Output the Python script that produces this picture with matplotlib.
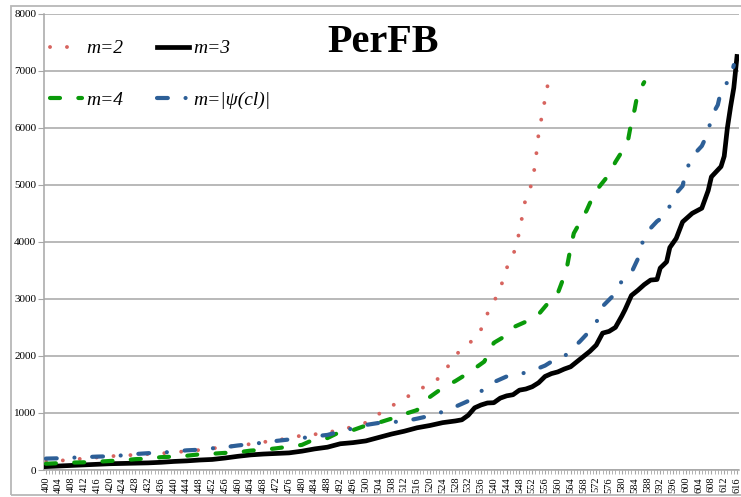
import matplotlib
matplotlib.use('Agg')
import matplotlib.pyplot as plt
from matplotlib.patches import Rectangle
import numpy as np

plt.rcParams['font.family'] = ['Liberation Serif', 'DejaVu Serif']

# m=2 (dotted red)
x_m2 = [400, 404, 408, 412, 416, 420, 424, 428, 432, 436, 440, 444, 448, 452, 456, 460,
        464, 468, 472, 476, 480, 484, 488, 492, 496, 500, 504, 508, 512, 516, 520, 524,
        527, 531, 535, 537, 539, 542, 543, 545, 547, 548, 549, 550, 552, 553, 554, 555, 556, 557]
y_m2 = [150, 160, 185, 200, 220, 240, 255, 265, 280, 290, 310, 330, 350, 380, 400, 430,
        455, 490, 520, 560, 605, 625, 660, 700, 760, 830, 980, 1120, 1250, 1390, 1510, 1650,
        1950, 2180, 2330, 2600, 2880, 3130, 3400, 3670, 3900, 4200, 4480, 4780, 5030, 5400, 5900, 6200, 6500, 6800]

# m=3 (solid black)
x_m3 = [400, 404, 408, 412, 416, 420, 424, 428, 432, 436, 440, 444, 448, 452, 456, 460,
        464, 468, 472, 476, 480, 484, 488, 492, 496, 500, 504, 508, 512, 516, 520, 524,
        528, 530, 532, 534, 536, 538, 540, 542, 544, 546, 548, 550, 552, 554, 556, 558,
        560, 562, 564, 566, 568, 570, 572, 574, 576, 578, 580, 581, 583, 585, 587, 589,
        591, 592, 594, 595, 597, 599, 600, 602, 605, 607, 608, 611, 612, 613, 614, 615, 616]
y_m3 = [60, 70, 80, 90, 100, 110, 115, 120, 125, 135, 150, 160, 175, 185, 210, 240,
        265, 280, 290, 300, 330, 370, 400, 460, 480, 510, 570, 630, 680, 740, 780, 830,
        860, 880, 960, 1090, 1140, 1175, 1180, 1260, 1300, 1320, 1400, 1420, 1460, 1530, 1640, 1690,
        1720, 1770, 1810, 1900, 1990, 2080, 2190, 2400, 2430, 2500, 2700, 2810, 3060, 3150, 3250, 3330,
        3340, 3540, 3650, 3900, 4060, 4350, 4400, 4500, 4590, 4900, 5140, 5320, 5500, 6000, 6370, 6700, 7250]

# m=4 (dashed green)
x_m4 = [400, 404, 408, 412, 416, 420, 424, 428, 432, 436, 440, 444, 448, 452, 456, 460,
        464, 468, 472, 476, 480, 484, 488, 492, 496, 500, 504, 508, 512, 516, 518, 520,
        524, 528, 532, 535, 537, 540, 543, 546, 550, 554, 557, 560, 562, 563, 564, 565,
        567, 569, 571, 573, 576, 578, 580, 582, 583, 584, 585, 586, 587]
y_m4 = [110, 120, 130, 135, 145, 158, 170, 190, 200, 225, 235, 250, 275, 285, 300, 310,
        340, 355, 380, 410, 440, 540, 560, 670, 700, 780, 830, 900, 980, 1050, 1200, 1280,
        1440, 1560, 1700, 1820, 1900, 2230, 2330, 2500, 2600, 2730, 2930, 3100, 3400, 3600, 3900, 4150,
        4350, 4550, 4800, 4970, 5180, 5400, 5580, 5800, 6100, 6320, 6620, 6700, 6800]

# m=|psi(cl)| (dash-dot blue)
x_psi = [400, 404, 408, 412, 416, 420, 424, 428, 432, 436, 440, 444, 448, 452, 456, 460,
         464, 468, 472, 476, 480, 484, 488, 492, 496, 500, 504, 508, 512, 516, 520, 524,
         528, 532, 536, 540, 544, 548, 552, 556, 558, 562, 565, 567, 569, 572, 574, 577,
         579, 583, 585, 586, 588, 591, 594, 596, 599, 600, 602, 605, 607, 608, 610, 611,
         613, 614, 615]
y_psi = [200, 205, 215, 225, 235, 240, 257, 280, 295, 305, 320, 345, 355, 380, 400, 430,
         455, 480, 510, 535, 560, 590, 615, 675, 730, 790, 825, 840, 855, 900, 950, 1020,
         1110, 1210, 1380, 1540, 1640, 1680, 1740, 1830, 1900, 1990, 2150, 2260, 2380, 2580, 2870, 3040,
         3250, 3460, 3700, 3930, 4180, 4360, 4480, 4790, 4980, 5230, 5500, 5680, 5920, 6200, 6400, 6650,
         6800, 6870, 7100]

tick_vals = list(range(400, 617, 4))

fig = plt.figure(figsize=(7.41, 4.97), dpi=100)
fig.patches.append(Rectangle((11 / 741, 2 / 497), 740 / 741, 489 / 497,
                             transform=fig.transFigure, fill=False,
                             edgecolor='#b8b8b8', lw=1.3))
ax = fig.add_axes([44.3 / 741, 1 - 470 / 497, 694.3 / 741, 456.3 / 497])

red = '#d7645f'
green = '#0a9a0a'
blue = '#2d5f97'

l2, = ax.plot(x_m2, y_m2, color=red, lw=2.8, linestyle=(0, (0.01, 4.35)),
              dash_capstyle='round', label='m=2', zorder=2)
l3, = ax.plot(x_m3, y_m3, color='black', lw=3.4, solid_joinstyle='round',
              label='m=3', zorder=3)
l4, = ax.plot(x_m4, y_m4, color=green, lw=3.0, linestyle=(0, (2.4, 4.4)),
              dash_capstyle='round', label='m=4', zorder=4)
lp, = ax.plot(x_psi, y_psi, color=blue, lw=3.0, linestyle=(0, (2.6, 4.25, 0.01, 4.25)),
              dash_capstyle='round', label='m=|ψ(cl)|', zorder=5)

ax.set_xlim(399.5, 616.5)
ax.set_ylim(0, 8000)
ax.set_yticks(range(0, 8001, 1000))
ax.yaxis.grid(True, color='#a6a6a6', lw=1.1)
ax.set_axisbelow(True)

ax.set_xticks(tick_vals)
ax.set_xticklabels([str(v) for v in tick_vals], rotation=90, fontsize=7.5)
ax.set_xticks(range(400, 617), minor=True)
ax.tick_params(axis='x', which='both', length=3, color='#a6a6a6', pad=2)
ax.tick_params(axis='y', length=4.3, color='#a6a6a6', labelsize=8, pad=1.5)

for s in ['top', 'right']:
    ax.spines[s].set_visible(False)
for s in ['left', 'bottom']:
    ax.spines[s].set_color('#a6a6a6')
    ax.spines[s].set_linewidth(1.1)

leg = ax.legend(handles=[l2, l4, l3, lp], ncol=2, loc='upper left',
                bbox_to_anchor=((50 - 44.3) / 694.3, 0.943), frameon=False,
                borderaxespad=0, borderpad=0,
                prop={'family': 'Liberation Serif', 'style': 'italic', 'size': 14},
                handlelength=1.65, labelspacing=1.75, columnspacing=1.75, handletextpad=0.2)

fig.text(383 / 741, 1 - 42 / 497, 'PerFB', ha='center', va='center',
         fontsize=29, fontweight='bold')

fig.savefig('out.png', dpi=100)
